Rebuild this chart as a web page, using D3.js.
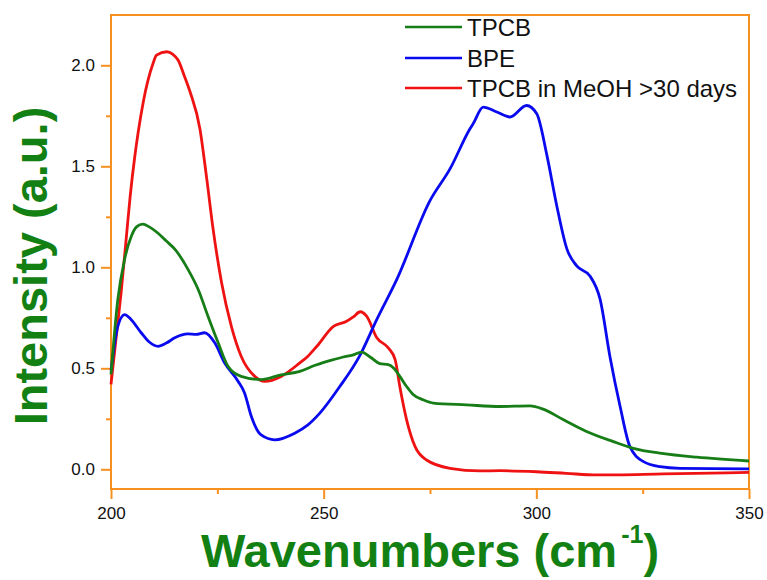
<!DOCTYPE html>
<html>
<head>
<meta charset="utf-8">
<script src="https://cdn.jsdelivr.net/npm/d3@7"></script>
<style>
  body { margin: 0; background: #fff; }
  svg { display: block; }
  text { font-family: "Liberation Sans", Arial, Helvetica, sans-serif; }
</style>
</head>
<body>
<svg id="chart" width="767" height="580"></svg>
<script>
// ---- data ----
const seriesNames = ["TPCB", "BPE", "TPCB in MeOH >30 days"];
const seriesColors = ["#177d17", "#0a0aee", "#ee1212"];

const tpcb = [
  [200,0.47],[201.6,0.84],[203.2,1.04],[204.8,1.155],[206,1.20],[207.5,1.214],[209,1.20],
  [211,1.17],[213,1.13],[215,1.09],[218.1,0.99],[220.5,0.89],[222.8,0.758],[225.2,0.626],
  [227.5,0.51],[230.6,0.46],[235.3,0.444],[240,0.468],[244.4,0.485],[248,0.515],[252.3,0.543],
  [254.6,0.556],[256.8,0.565],[258.9,0.58],[261,0.555],[263.2,0.523],[265.2,0.518],[266.5,0.50],
  [267.9,0.46],[269.5,0.41],[271.1,0.369],[273.5,0.343],[275.8,0.328],[283.6,0.319],[291.5,0.311],
  [298.5,0.314],[301.6,0.298],[306.4,0.245],[311.8,0.187],[318.1,0.137],[322.8,0.104],
  [329.5,0.079],[337.7,0.06],[350,0.041]
];

const bpe = [
  [200,0.49],[201.6,0.708],[203.2,0.766],[204.7,0.742],[207.1,0.676],[209,0.63],[211.1,0.609],
  [213,0.625],[215,0.651],[218.1,0.67],[220,0.668],[222,0.676],[224.4,0.626],[226.7,0.527],
  [229.9,0.435],[231.4,0.378],[233,0.261],[235.3,0.17],[238.5,0.146],[243.2,0.179],[246.3,0.22],
  [249.1,0.278],[253.8,0.41],[258.5,0.563],[262.5,0.742],[267.2,0.94],[275,1.33],[279.7,1.487],
  [284.4,1.686],[285.2,1.713],[287.5,1.793],[290.7,1.769],[293.8,1.744],[297.7,1.801],[300.1,1.76],
  [302.5,1.553],[304.8,1.305],[307.2,1.09],[309.5,1.007],[312.6,0.957],[315,0.841],[317.3,0.559],
  [319.7,0.311],[322,0.112],[325.2,0.038],[329.1,0.013],[333.8,0.005],[350,0.002]
];

const tpcbMeOH = [
  [200,0.42],[201.2,0.65],[202.4,0.88],[203.7,1.17],[204.5,1.35],[205.6,1.55],[206.4,1.67],
  [207.6,1.82],[209.9,2.01],[210.7,2.05],[213.1,2.067],[214.5,2.055],[215.8,2.025],[217.2,1.95],
  [218.6,1.868],[220.9,1.686],[222.5,1.44],[224,1.19],[226,0.924],[228.3,0.708],[230.6,0.56],
  [233.8,0.46],[236.1,0.435],[240,0.46],[244.4,0.527],[246.3,0.56],[248.4,0.609],[252.3,0.708],
  [255.4,0.733],[257,0.755],[258.6,0.78],[260.1,0.758],[262.5,0.651],[265.2,0.601],[266.8,0.543],
  [267.9,0.41],[269.5,0.245],[271.5,0.112],[274.2,0.046],[279.7,0.005],[286.8,-0.008],
  [291.5,-0.007],[300.1,-0.012],[307,-0.02],[314.2,-0.028],[329.9,-0.023],[350,-0.015]
];

const xMajorTicks = [200, 250, 300, 350];
const xMinorTicks = [225, 275, 325];
const yMajorTicks = [0, 0.5, 1.0, 1.5, 2.0];
const yMinorTicks = [0.25, 0.75, 1.25, 1.75];

// ---- layout ----
const svg = d3.select("#chart");
const plotLeft = 111, plotRight = 749, plotTop = 15, plotBottom = 489;
const axisColor = "#f7901e";
const titleColor = "#138013";

const x = d3.scaleLinear().domain([200, 350]).range([plotLeft, plotRight]);
const y = d3.scaleLinear().domain([-0.0975, 2.249]).range([plotBottom, plotTop]);

// frame
svg.append("rect")
  .attr("x", plotLeft).attr("y", plotTop)
  .attr("width", plotRight - plotLeft).attr("height", plotBottom - plotTop)
  .attr("fill", "none").attr("stroke", axisColor).attr("stroke-width", 2);

function styleAxis(g) {
  g.select(".domain").remove();
  g.selectAll(".tick line").attr("stroke", axisColor).attr("stroke-width", 2);
  g.selectAll(".tick text").attr("fill", "#111").style("font-size", "17px");
}

// y axis
svg.append("g").attr("transform", `translate(${plotLeft},0)`)
  .call(d3.axisLeft(y).tickValues(yMajorTicks).tickFormat(d3.format(".1f")).tickSize(10).tickPadding(6))
  .call(styleAxis);
svg.append("g").attr("transform", `translate(${plotLeft},0)`)
  .call(d3.axisLeft(y).tickValues(yMinorTicks).tickFormat("").tickSize(5))
  .call(styleAxis);

// x axis
svg.append("g").attr("transform", `translate(0,${plotBottom})`)
  .call(d3.axisBottom(x).tickValues(xMajorTicks).tickFormat(d3.format("d")).tickSize(10).tickPadding(8))
  .call(styleAxis);
svg.append("g").attr("transform", `translate(0,${plotBottom})`)
  .call(d3.axisBottom(x).tickValues(xMinorTicks).tickFormat("").tickSize(5))
  .call(styleAxis);

// curves
const line = d3.line().x(d => x(d[0])).y(d => y(d[1])).curve(d3.curveMonotoneX);
const allSeries = [tpcb, bpe, tpcbMeOH];
const drawOrder = [2, 1, 0];
drawOrder.forEach(i => {
  svg.append("path").datum(allSeries[i])
    .attr("d", line)
    .attr("fill", "none")
    .attr("stroke", seriesColors[i])
    .attr("stroke-width", 2.8)
    .attr("stroke-linejoin", "round");
});

// legend
const legendY = [27, 58, 88];
seriesNames.forEach((name, i) => {
  svg.append("line")
    .attr("x1", 405).attr("x2", 462)
    .attr("y1", legendY[i]).attr("y2", legendY[i])
    .attr("stroke", seriesColors[i]).attr("stroke-width", 2.5);
  svg.append("text")
    .attr("x", 467).attr("y", legendY[i])
    .attr("dy", "0.36em")
    .attr("fill", "#111")
    .style("font-size", "24px")
    .text(name);
});

// axis titles
svg.append("text")
  .attr("transform", "translate(47,266) rotate(-90)")
  .attr("text-anchor", "middle")
  .attr("fill", titleColor)
  .style("font-size", "47px").style("font-weight", "bold")
  .text("Intensity (a.u.)");

const xt = svg.append("text")
  .attr("x", 430).attr("y", 567)
  .attr("text-anchor", "middle")
  .attr("fill", titleColor)
  .style("font-size", "47px").style("font-weight", "bold");
xt.append("tspan").text("Wavenumbers (cm");
xt.append("tspan").attr("dy", -24).attr("dx", 4).style("font-size", "25px").text("-1");
xt.append("tspan").attr("dy", 24).text(")");
</script>
</body>
</html>
